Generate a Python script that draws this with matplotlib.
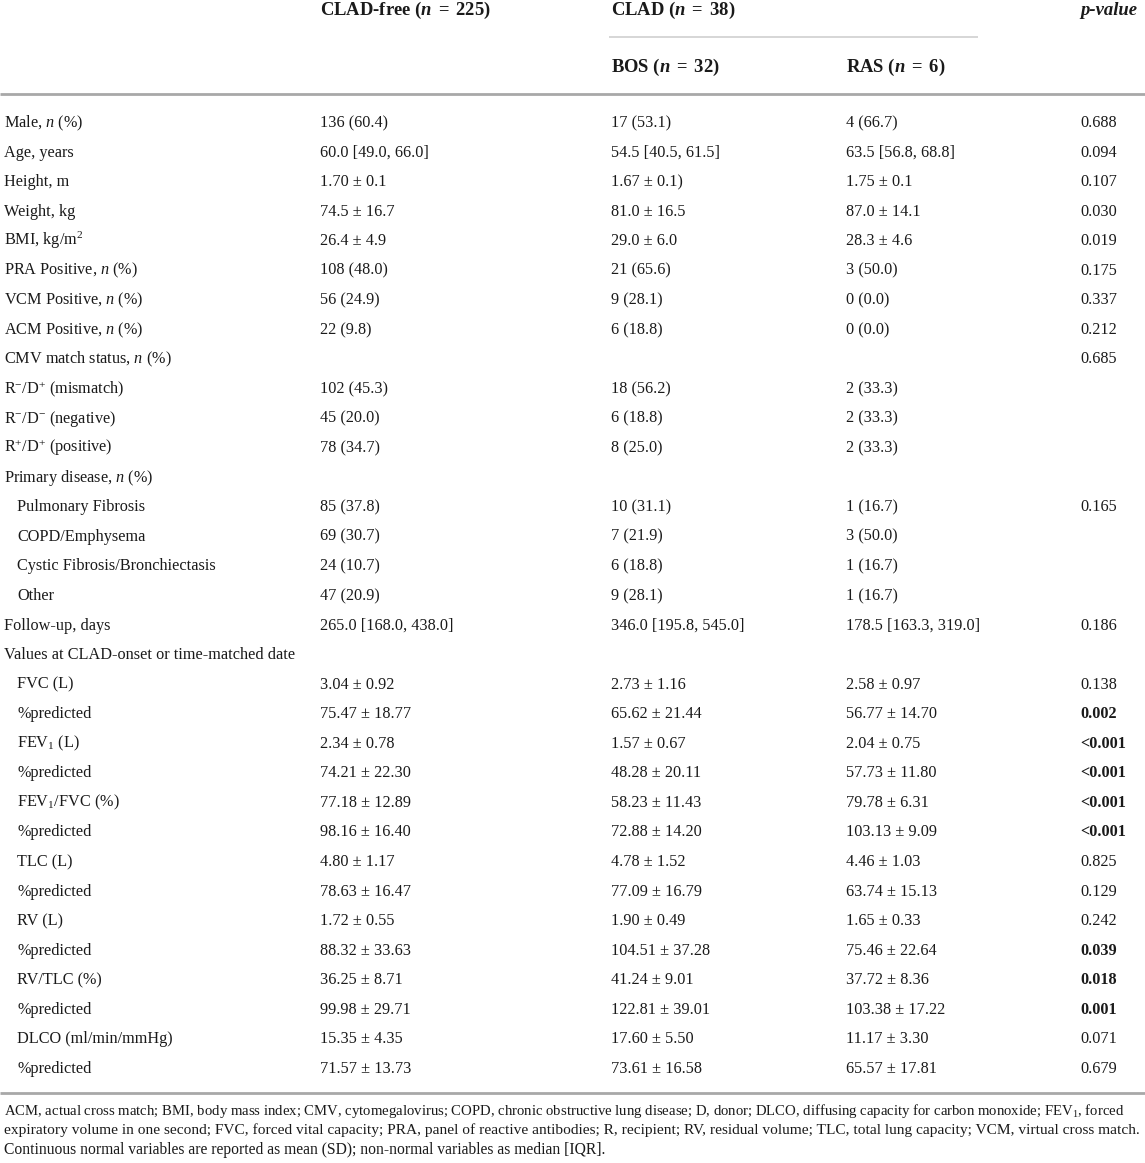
import matplotlib
matplotlib.use("Agg")
import matplotlib.pyplot as plt

plt.rcParams['font.family'] = ['Liberation Serif', 'DejaVu Serif']
plt.rcParams['mathtext.fontset'] = 'custom'
plt.rcParams['mathtext.rm'] = 'Liberation Serif'
plt.rcParams['mathtext.it'] = 'Liberation Serif:italic'
plt.rcParams['mathtext.bf'] = 'Liberation Serif:bold'
plt.rcParams['mathtext.bfit'] = 'Liberation Serif:italic:bold'

# ---------------- data ----------------
header_groups = [r"CLAD-free ($\mathbfit{n}\,$ = $\,$225)", r"CLAD ($\mathbfit{n}\,$ = $\,$38)", "p-value"]
header_sub = [r"BOS ($\mathbfit{n}\,$ = $\,$32)", r"RAS ($\mathbfit{n}\,$ = $\,$6)"]

labels = [
    r"Male, $n$ (%)", "Age, years", "Height, m", "Weight, kg", r"BMI, kg/m$^{2}$",
    r"PRA Positive, $n$ (%)", r"VCM Positive, $n$ (%)", r"ACM Positive, $n$ (%)",
    r"CMV match status, $n$ (%)",
    r"R$^{-}$/D$^{+}$ (mismatch)", r"R$^{-}$/D$^{-}$ (negative)", r"R$^{+}$/D$^{+}$ (positive)",
    r"Primary disease, $n$ (%)",
    "Pulmonary Fibrosis", "COPD/Emphysema", "Cystic Fibrosis/Bronchiectasis", "Other",
    "Follow-up, days", "Values at CLAD-onset or time-matched date",
    "FVC (L)", "%predicted", r"FEV$_{1}$ (L)", "%predicted", r"FEV$_{1}$/FVC (%)", "%predicted",
    "TLC (L)", "%predicted", "RV (L)", "%predicted", "RV/TLC (%)", "%predicted",
    "DLCO (ml/min/mmHg)", "%predicted",
]
indented = [0]*13 + [1]*4 + [0]*2 + [1]*14

clad_free = [
    "136 (60.4)", "60.0 [49.0, 66.0]", "1.70 ± 0.1", "74.5 ± 16.7", "26.4 ± 4.9",
    "108 (48.0)", "56 (24.9)", "22 (9.8)", "",
    "102 (45.3)", "45 (20.0)", "78 (34.7)", "",
    "85 (37.8)", "69 (30.7)", "24 (10.7)", "47 (20.9)",
    "265.0 [168.0, 438.0]", "",
    "3.04 ± 0.92", "75.47 ± 18.77", "2.34 ± 0.78", "74.21 ± 22.30", "77.18 ± 12.89", "98.16 ± 16.40",
    "4.80 ± 1.17", "78.63 ± 16.47", "1.72 ± 0.55", "88.32 ± 33.63", "36.25 ± 8.71", "99.98 ± 29.71",
    "15.35 ± 4.35", "71.57 ± 13.73",
]
bos = [
    "17 (53.1)", "54.5 [40.5, 61.5]", "1.67 ± 0.1)", "81.0 ± 16.5", "29.0 ± 6.0",
    "21 (65.6)", "9 (28.1)", "6 (18.8)", "",
    "18 (56.2)", "6 (18.8)", "8 (25.0)", "",
    "10 (31.1)", "7 (21.9)", "6 (18.8)", "9 (28.1)",
    "346.0 [195.8, 545.0]", "",
    "2.73 ± 1.16", "65.62 ± 21.44", "1.57 ± 0.67", "48.28 ± 20.11", "58.23 ± 11.43", "72.88 ± 14.20",
    "4.78 ± 1.52", "77.09 ± 16.79", "1.90 ± 0.49", "104.51 ± 37.28", "41.24 ± 9.01", "122.81 ± 39.01",
    "17.60 ± 5.50", "73.61 ± 16.58",
]
ras = [
    "4 (66.7)", "63.5 [56.8, 68.8]", "1.75 ± 0.1", "87.0 ± 14.1", "28.3 ± 4.6",
    "3 (50.0)", "0 (0.0)", "0 (0.0)", "",
    "2 (33.3)", "2 (33.3)", "2 (33.3)", "",
    "1 (16.7)", "3 (50.0)", "1 (16.7)", "1 (16.7)",
    "178.5 [163.3, 319.0]", "",
    "2.58 ± 0.97", "56.77 ± 14.70", "2.04 ± 0.75", "57.73 ± 11.80", "79.78 ± 6.31", "103.13 ± 9.09",
    "4.46 ± 1.03", "63.74 ± 15.13", "1.65 ± 0.33", "75.46 ± 22.64", "37.72 ± 8.36", "103.38 ± 17.22",
    "11.17 ± 3.30", "65.57 ± 17.81",
]
pvals = [
    "0.688", "0.094", "0.107", "0.030", "0.019", "0.175", "0.337", "0.212", "0.685",
    "", "", "", "", "0.165", "", "", "", "0.186", "",
    "0.138", "0.002", "<0.001", "<0.001", "<0.001", "<0.001",
    "0.825", "0.129", "0.242", "0.039", "0.018", "0.001", "0.071", "0.679",
]
p_bold = [0]*20 + [1]*5 + [0]*3 + [1]*3 + [0]*2

footnote = [
    "ACM, actual cross match; BMI, body mass index; CMV, cytomegalovirus; COPD, chronic obstructive lung disease; D, donor; DLCO, diffusing capacity for carbon monoxide; FEV$_{1}$, forced",
    "expiratory volume in one second; FVC, forced vital capacity; PRA, panel of reactive antibodies; R, recipient; RV, residual volume; TLC, total lung capacity; VCM, virtual cross match.",
    "Continuous normal variables are reported as mean (SD); non-normal variables as median [IQR].",
]

# ---------------- layout ----------------
W, H = 1145, 1163
fig = plt.figure(figsize=(W/100, H/100), dpi=100)
ax = fig.add_axes([0, 0, 1, 1])
ax.set_xlim(0, W)
ax.set_ylim(H, 0)
ax.axis('off')

txt = '#1a1a1a'
fs = 11.7
fs_h = 13.4
col_x = [4, 320, 611, 846, 1080]
indent_x = 17
row0, dy = 122, 29.56
base_off = 5

# header
hdr_y1, hdr_y2 = 10 + base_off, 67 + base_off
ax.text(col_x[1], hdr_y1, header_groups[0], fontsize=fs_h, fontweight='bold', color=txt, va='baseline')
ax.text(col_x[2], hdr_y1, header_groups[1], fontsize=fs_h, fontweight='bold', color=txt, va='baseline')
ax.text(col_x[4], hdr_y1, header_groups[2], fontsize=fs_h, fontweight='bold', fontstyle='italic', color=txt, va='baseline')
ax.text(col_x[2], hdr_y2, header_sub[0], fontsize=fs_h, fontweight='bold', color=txt, va='baseline')
ax.text(col_x[3], hdr_y2, header_sub[1], fontsize=fs_h, fontweight='bold', color=txt, va='baseline')
ax.plot([609, 978], [37, 37], color='#cfcfcf', lw=1.2, solid_capstyle='butt')
ax.plot([0, W], [94, 94], color='#a8a8a8', lw=2.0, solid_capstyle='butt')

for i, lab in enumerate(labels):
    y = row0 + i*dy + base_off
    ax.text(indent_x if indented[i] else col_x[0], y, lab, fontsize=fs, color=txt, va='baseline')
    ax.text(col_x[1], y, clad_free[i], fontsize=fs, color=txt, va='baseline')
    ax.text(col_x[2], y, bos[i], fontsize=fs, color=txt, va='baseline')
    ax.text(col_x[3], y, ras[i], fontsize=fs, color=txt, va='baseline')
    ax.text(col_x[4], y, pvals[i], fontsize=fs, color=txt, va='baseline',
            fontweight='bold' if p_bold[i] else 'normal')

ax.plot([0, W], [1093, 1093], color='#a8a8a8', lw=2.0, solid_capstyle='butt')

# footnote: fit each line to the width it occupies in the reference
foot_right = [1124, 1140, 607]
fig.canvas.draw()
renderer = fig.canvas.get_renderer()
for j, line in enumerate(footnote):
    t = ax.text(4, 1110 + j*19.6 + 4.5, line, fontsize=11.0, color=txt, va='baseline')
    w = t.get_window_extent(renderer=renderer).width
    t.set_fontsize(11.0 * (foot_right[j] - 4) / w)

fig.savefig('out.png', dpi=100)
